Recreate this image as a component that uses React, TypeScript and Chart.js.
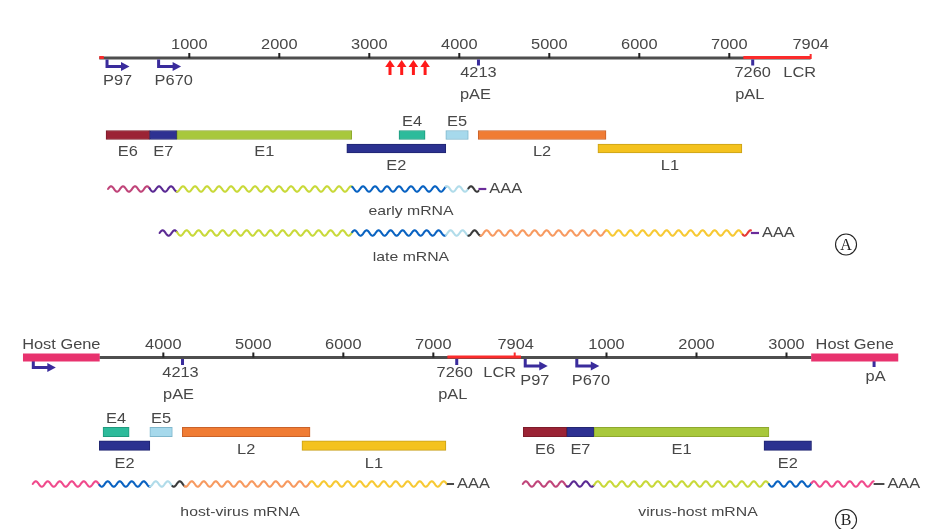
import React, { useEffect, useRef } from "react";
import { Chart, registerables } from "chart.js";
Chart.register(...registerables);

// ================= DATA =================
const GENOME_END = 7904;
const AXIS_TICKS = [1000, 2000, 3000, 4000, 5000, 6000, 7000];
const PROMOTER_NAMES = ["P97", "P670"];
const PROMOTER_POS = [97, 670];
const POLYA_NAMES = ["pAE", "pAL"];
const POLYA_POS = [4213, 7260];
const LCR_RANGE = [7156, 7904];
const LCR_WRAP_END = 50;
const BREAK_SITES = [3230, 3360, 3490, 3620];

const GENE_NAMES = ["E6", "E7", "E1", "E2", "E4", "E5", "L2", "L1"];
const GENE_START = [75, 559, 862, 2750, 3330, 3850, 4210, 5540];
const GENE_END = [559, 862, 2805, 3850, 3620, 4100, 5630, 7140];
const GENE_ROW = [0, 0, 0, 1, 0, 0, 0, 1];

const EARLY_KEYS = ["E6", "E7", "E1", "E2", "E5", "UTR"];
const EARLY_BOUNDS = [97, 559, 862, 2810, 3852, 4101, 4213];
const EARLY_TAIL = [4213, 4300];
const LATE_KEYS = ["E7", "E1", "E2", "E5", "UTR", "L2", "L1", "LCR"];
const LATE_BOUNDS = [670, 862, 2810, 3852, 4101, 4236, 5630, 7150, 7240];
const LATE_TAIL = [7240, 7330];
const MRNA_LABELS_A = ["early mRNA", "late mRNA"];
const MRNA_LABEL_BP_A = 3463;

// Panel B (integrated genome)
const HOST_LEFT_LEN = 845;
const HOST_RIGHT_LEN = 960;
const JUNCTION_LEFT = 3289;
const JUNCTION_RIGHT = 3278;
const WRAP_GAP = 20;
const B_TICKS_V1 = [4000, 5000, 6000, 7000];
const B_TICKS_V2 = [1000, 2000, 3000];
const HOST_PROMOTER = 111;
const HOST_POLYA = 695;
const HOST_LABEL = "Host Gene";
const HOST_POLYA_NAME = "pA";

const HV_HOST_RANGE = [105, 845];
const HV_KEYS = ["E2", "E5", "UTR", "L2", "L1"];
const HV_BOUNDS = [3289, 3852, 4101, 4236, 5630, 7150];
const HV_TAIL = [7150, 7230];
const VH_KEYS = ["E6", "E7", "E1", "E2"];
const VH_BOUNDS = [70, 559, 862, 2805, 3278];
const VH_HOST_RANGE = [0, 690];
const VH_TAIL = [690, 810];
const MRNA_LABELS_B = ["host-virus mRNA", "virus-host mRNA"];
const HV_LABEL_BP = 4852;
const VH_LABEL_BP = 2017;
const POLY_A_TEXT = "AAA";
const PANEL_TAGS = ["A", "B"];

// ================= STYLE / LAYOUT =================
const W = 937;
const H = 529;
const PX_PER_BP = 0.09;
const A_ORIGIN_PX = 99.3;
const B_ORIGIN_PX = 23.3;
const L = {
  aAxis: 58, aRow0: 135, aRow1: 148.5, aEarly: 189, aLate: 233, aEarlyLabel: 211, aLateLabel: 257,
  bAxis: 357.5, bRow0: 432, bRow1: 445.7, bMrna: 484, bMrnaLabel: 512,
  tagX: 8297, tagYA: 244.5, tagYB: 520,
};
const TEXT_COLOR = "#474747";
const TEXT_STRETCH = 1.17;
const FONT = '"Liberation Sans", Arial, Helvetica, sans-serif';
const AXIS_COLOR = "#4e4e4e";
const LCR_COLOR = "#fb2b2b";
const PROMO_COLOR = "#3a2c9c";
const GENE_COLORS: Record<string, string> = {
  E6: "#9b2335", E7: "#2e3192", E1: "#a8c83c", E2: "#2b3190", E4: "#2dbb9b",
  E5: "#a6d9ec", L2: "#f07c34", L1: "#f4c21e", HOST: "#e8326e",
};
const GENE_BORDERS: Record<string, string> = {
  E6: "#7d1b2a", E7: "#23266f", E1: "#8ea82e", E2: "#1f2470", E4: "#1f9a7e",
  E5: "#7fb7cc", L2: "#c9622a", L1: "#c9a018", HOST: "#e8326e",
};
const WAVE_COLORS: Record<string, string> = {
  E6: "#c0457a", E7: "#5b2a94", E1: "#c9d93a", E2: "#0a63c2", E5: "#b1dcea",
  UTR: "#3a3a3a", L2: "#f79a60", L1: "#f7c934", LCR: "#e53935", HOST: "#f04a8c",
};
const TAIL_PURPLE = "#6a2c9a";
const TAIL_GRAY = "#4a4a4a";
const LABEL_ABOVE = ["E4", "E5"];

// ================= HELPERS =================
function toB(seg: string, pos: number): number {
  if (seg === "hostL") return pos;
  if (seg === "v1") return HOST_LEFT_LEN + (pos - JUNCTION_LEFT);
  const v2base = HOST_LEFT_LEN + (GENOME_END - JUNCTION_LEFT) + WRAP_GAP;
  if (seg === "v2") return v2base + pos;
  return v2base + JUNCTION_RIGHT + pos; // hostR
}

type Bar = { name: string; seg: string; s: number; e: number; row: number };
const A_BARS: Bar[] = GENE_NAMES.map((g, i) => ({ name: g, seg: "A", s: GENE_START[i], e: GENE_END[i], row: GENE_ROW[i] }));
const B_BARS: Bar[] = [];
GENE_NAMES.forEach((g, i) => {
  const s1 = Math.max(GENE_START[i], JUNCTION_LEFT), e1 = Math.min(GENE_END[i], GENOME_END);
  if (e1 > s1) B_BARS.push({ name: g, seg: "v1", s: s1, e: e1, row: GENE_ROW[i] });
  const s2 = Math.max(GENE_START[i], 0), e2 = Math.min(GENE_END[i], JUNCTION_RIGHT);
  if (e2 > s2) B_BARS.push({ name: g, seg: "v2", s: s2, e: e2, row: GENE_ROW[i] });
});

function drawText(ctx: CanvasRenderingContext2D, str: string, x: number, y: number, align: CanvasTextAlign = "center", size = 14) {
  ctx.save();
  ctx.font = `${size}px ${FONT}`;
  ctx.fillStyle = TEXT_COLOR;
  ctx.textBaseline = "middle";
  ctx.textAlign = align;
  ctx.translate(x, y);
  ctx.scale(TEXT_STRETCH, 1);
  ctx.fillText(str, 0, 0);
  ctx.restore();
}

function drawWave(ctx: CanvasRenderingContext2D, x1: number, x2: number, yc: number, color: string, origin: number) {
  const amp = 2.7, wl = 12;
  ctx.save();
  ctx.strokeStyle = color;
  ctx.lineWidth = 2.1;
  ctx.lineCap = "round";
  ctx.lineJoin = "round";
  ctx.beginPath();
  const n = Math.max(2, Math.ceil((x2 - x1) / 0.5));
  for (let i = 0; i <= n; i++) {
    const x = x1 + ((x2 - x1) * i) / n;
    const y = yc - amp * Math.sin((2 * Math.PI * (x - origin)) / wl);
    if (i === 0) ctx.moveTo(x, y);
    else ctx.lineTo(x, y);
  }
  ctx.stroke();
  ctx.restore();
}

function drawLine(ctx: CanvasRenderingContext2D, x1: number, y1: number, x2: number, y2: number, color: string, w: number) {
  ctx.save();
  ctx.strokeStyle = color;
  ctx.lineWidth = w;
  ctx.beginPath();
  ctx.moveTo(x1, y1);
  ctx.lineTo(x2, y2);
  ctx.stroke();
  ctx.restore();
}

function drawPromoter(ctx: CanvasRenderingContext2D, x: number, axisY: number) {
  ctx.save();
  ctx.strokeStyle = PROMO_COLOR;
  ctx.fillStyle = PROMO_COLOR;
  ctx.lineWidth = 3;
  ctx.beginPath();
  ctx.moveTo(x, axisY + 1.5);
  ctx.lineTo(x, axisY + 8.5);
  ctx.lineTo(x + 15, axisY + 8.5);
  ctx.stroke();
  ctx.beginPath();
  ctx.moveTo(x + 14, axisY + 4);
  ctx.lineTo(x + 22.5, axisY + 8.5);
  ctx.lineTo(x + 14, axisY + 13);
  ctx.closePath();
  ctx.fill();
  ctx.restore();
}

function drawMarker(ctx: CanvasRenderingContext2D, x: number, axisY: number) {
  ctx.save();
  ctx.fillStyle = PROMO_COLOR;
  ctx.fillRect(x - 1.5, axisY + 1.5, 3, 6);
  ctx.restore();
}

function drawTick(ctx: CanvasRenderingContext2D, x: number, axisY: number, color = "#222") {
  ctx.save();
  ctx.fillStyle = color;
  ctx.fillRect(x - 1, axisY - 5, 2, 5);
  ctx.restore();
}

function drawMRNA(ctx: CanvasRenderingContext2D, segs: [number, number, string][], yc: number) {
  const origin = segs[0][0];
  segs.forEach(([a, b, c]) => drawWave(ctx, a, b, yc, c, origin));
}

// ================= PLUGIN =================
const diagramPlugin = {
  id: "genomeDiagram",
  beforeDatasetsDraw(chart: any) {
    const ctx: CanvasRenderingContext2D = chart.ctx;
    const xA = chart.scales.xA, xB = chart.scales.xB, ys = chart.scales.y;
    const pa = (p: number) => xA.getPixelForValue(p);
    const pb = (seg: string, p: number) => xB.getPixelForValue(toB(seg, p));
    const Y = (v: number) => ys.getPixelForValue(v);
    ctx.save();
    ctx.fillStyle = "#ffffff";
    ctx.fillRect(0, 0, chart.width, chart.height);
    ctx.restore();

    // ---- Panel A axis ----
    const ay = Y(L.aAxis);
    drawLine(ctx, pa(0), ay, pa(GENOME_END), ay, AXIS_COLOR, 3);
    AXIS_TICKS.forEach((t) => drawTick(ctx, pa(t), ay));
    drawLine(ctx, pa(LCR_RANGE[0]), ay - 0.5, pa(LCR_RANGE[1]), ay - 0.5, LCR_COLOR, 3);
    drawLine(ctx, pa(0), ay - 0.5, pa(LCR_WRAP_END), ay - 0.5, LCR_COLOR, 3);
    drawTick(ctx, pa(GENOME_END), ay + 1, LCR_COLOR);
    PROMOTER_POS.forEach((p) => drawPromoter(ctx, pa(p) - 1, ay));
    POLYA_POS.forEach((p) => drawMarker(ctx, pa(p), ay));
    BREAK_SITES.forEach((s) => {
      const x = pa(s);
      ctx.save();
      ctx.fillStyle = "#ff1a1a";
      ctx.fillRect(x - 1.5, ay + 8, 3, 9);
      ctx.beginPath();
      ctx.moveTo(x, ay + 2);
      ctx.lineTo(x - 4.8, ay + 9);
      ctx.lineTo(x + 4.8, ay + 9);
      ctx.closePath();
      ctx.fill();
      ctx.restore();
    });

    // ---- Panel A mRNAs ----
    const early: [number, number, string][] = EARLY_KEYS.map((k, i) => [pa(EARLY_BOUNDS[i]), pa(EARLY_BOUNDS[i + 1]), WAVE_COLORS[k]]);
    drawMRNA(ctx, early, Y(L.aEarly));
    drawLine(ctx, pa(EARLY_TAIL[0]), Y(L.aEarly), pa(EARLY_TAIL[1]), Y(L.aEarly), TAIL_PURPLE, 2.2);
    const late: [number, number, string][] = LATE_KEYS.map((k, i) => [pa(LATE_BOUNDS[i]), pa(LATE_BOUNDS[i + 1]), WAVE_COLORS[k]]);
    drawMRNA(ctx, late, Y(L.aLate));
    drawLine(ctx, pa(LATE_TAIL[0]), Y(L.aLate), pa(LATE_TAIL[1]), Y(L.aLate), TAIL_PURPLE, 2.2);

    // ---- Panel B axis ----
    const by = Y(L.bAxis);
    drawLine(ctx, pb("hostL", HOST_LEFT_LEN), by, pb("hostR", 0), by, AXIS_COLOR, 3);
    B_TICKS_V1.forEach((t) => drawTick(ctx, pb("v1", t), by));
    B_TICKS_V2.forEach((t) => drawTick(ctx, pb("v2", t), by));
    drawLine(ctx, pb("v1", LCR_RANGE[0]), by - 0.5, pb("v2", LCR_WRAP_END), by - 0.5, LCR_COLOR, 3);
    drawTick(ctx, pb("v1", GENOME_END), by, LCR_COLOR);
    PROMOTER_POS.forEach((p) => drawPromoter(ctx, pb("v2", p), by));
    drawPromoter(ctx, pb("hostL", HOST_PROMOTER), by + 1.5);
    POLYA_POS.forEach((p) => drawMarker(ctx, pb("v1", p), by));
    drawMarker(ctx, pb("hostR", HOST_POLYA), by + 2);

    // ---- Panel B mRNAs ----
    const bm = Y(L.bMrna);
    const hv: [number, number, string][] = [[pb("hostL", HV_HOST_RANGE[0]), pb("hostL", HV_HOST_RANGE[1]), WAVE_COLORS.HOST]];
    HV_KEYS.forEach((k, i) => hv.push([pb("v1", HV_BOUNDS[i]), pb("v1", HV_BOUNDS[i + 1]), WAVE_COLORS[k]]));
    drawMRNA(ctx, hv, bm);
    drawLine(ctx, pb("v1", HV_TAIL[0]), bm, pb("v1", HV_TAIL[1]), bm, TAIL_GRAY, 2);
    const vh: [number, number, string][] = VH_KEYS.map((k, i) => [pb("v2", VH_BOUNDS[i]), pb("v2", VH_BOUNDS[i + 1]), WAVE_COLORS[k]]);
    vh.push([pb("hostR", VH_HOST_RANGE[0]), pb("hostR", VH_HOST_RANGE[1]), WAVE_COLORS.HOST]);
    drawMRNA(ctx, vh, bm);
    drawLine(ctx, pb("hostR", VH_TAIL[0]), bm, pb("hostR", VH_TAIL[1]), bm, TAIL_GRAY, 2);
  },
  afterDatasetsDraw(chart: any) {
    const ctx: CanvasRenderingContext2D = chart.ctx;
    const xA = chart.scales.xA, xB = chart.scales.xB, ys = chart.scales.y;
    const pa = (p: number) => xA.getPixelForValue(p);
    const pb = (seg: string, p: number) => xB.getPixelForValue(toB(seg, p));
    const Y = (v: number) => ys.getPixelForValue(v);

    // ---- Panel A text ----
    const ay = Y(L.aAxis);
    AXIS_TICKS.forEach((t) => drawText(ctx, String(t), pa(t), ay - 13));
    drawText(ctx, String(GENOME_END), pa(GENOME_END), ay - 13);
    PROMOTER_NAMES.forEach((n, i) => drawText(ctx, n, pa(PROMOTER_POS[i]) - 5, ay + 23, "left"));
    POLYA_NAMES.forEach((n, i) => {
      drawText(ctx, String(POLYA_POS[i]), pa(POLYA_POS[i]), ay + 15.5);
      drawText(ctx, n, pa(POLYA_POS[i]) - 3, ay + 37.5);
    });
    drawText(ctx, "LCR", pa(POLYA_POS[1]) + 47, ay + 15.5);
    const rowA = [L.aRow0, L.aRow1];
    A_BARS.forEach((b) => {
      const x = (pa(b.s) + pa(b.e)) / 2;
      const y = Y(rowA[b.row]) + (LABEL_ABOVE.includes(b.name) ? -13 : 17.3);
      drawText(ctx, b.name, x, y);
    });
    drawText(ctx, POLY_A_TEXT, pa(EARLY_TAIL[1]) + 3, Y(L.aEarly), "left");
    drawText(ctx, POLY_A_TEXT, pa(LATE_TAIL[1]) + 3, Y(L.aLate), "left");
    drawText(ctx, MRNA_LABELS_A[0], pa(MRNA_LABEL_BP_A), Y(L.aEarlyLabel), "center", 13.5);
    drawText(ctx, MRNA_LABELS_A[1], pa(MRNA_LABEL_BP_A), Y(L.aLateLabel), "center", 13.5);

    // ---- Panel B text ----
    const by = Y(L.bAxis);
    drawText(ctx, HOST_LABEL, (pb("hostL", 0) + pb("hostL", HOST_LEFT_LEN)) / 2, by - 12.5);
    drawText(ctx, HOST_LABEL, (pb("hostR", 0) + pb("hostR", HOST_RIGHT_LEN)) / 2, by - 12.5);
    B_TICKS_V1.forEach((t) => drawText(ctx, String(t), pb("v1", t), by - 12.5));
    drawText(ctx, String(GENOME_END), pb("v1", GENOME_END) + 1, by - 12.5);
    B_TICKS_V2.forEach((t) => drawText(ctx, String(t), pb("v2", t), by - 12.5));
    PROMOTER_NAMES.forEach((n, i) => drawText(ctx, n, pb("v2", PROMOTER_POS[i]) - 5, by + 23.5, "left"));
    POLYA_NAMES.forEach((n, i) => {
      drawText(ctx, String(POLYA_POS[i]), pb("v1", POLYA_POS[i]) - 2, by + 15.5);
      drawText(ctx, n, pb("v1", POLYA_POS[i]) - 4, by + 37.5);
    });
    drawText(ctx, "LCR", pb("v1", POLYA_POS[1]) + 43, by + 15.5);
    drawText(ctx, HOST_POLYA_NAME, pb("hostR", HOST_POLYA) + 1.5, by + 19.5);
    const rowB = [L.bRow0, L.bRow1];
    B_BARS.forEach((b) => {
      const x = (pb(b.seg, b.s) + pb(b.seg, b.e)) / 2;
      const y = Y(rowB[b.row]) + (LABEL_ABOVE.includes(b.name) ? -12.5 : 18);
      drawText(ctx, b.name, x, y);
    });
    drawText(ctx, POLY_A_TEXT, pb("v1", HV_TAIL[1]) + 3, Y(L.bMrna), "left");
    drawText(ctx, POLY_A_TEXT, pb("hostR", VH_TAIL[1]) + 3, Y(L.bMrna), "left");
    drawText(ctx, MRNA_LABELS_B[0], pb("v1", HV_LABEL_BP), Y(L.bMrnaLabel), "center", 13.5);
    drawText(ctx, MRNA_LABELS_B[1], pb("v2", VH_LABEL_BP), Y(L.bMrnaLabel), "center", 13.5);

    // ---- Panel tags ----
    [L.tagYA, L.tagYB].forEach((ty, i) => {
      const cx = pa(L.tagX), cy = Y(ty);
      ctx.save();
      ctx.strokeStyle = "#222";
      ctx.lineWidth = 1.1;
      ctx.beginPath();
      ctx.arc(cx, cy, 10.5, 0, Math.PI * 2);
      ctx.stroke();
      ctx.fillStyle = "#222";
      ctx.font = '16px "Liberation Serif", "DejaVu Serif", serif';
      ctx.textAlign = "center";
      ctx.textBaseline = "middle";
      ctx.fillText(PANEL_TAGS[i], cx, cy + 1);
      ctx.restore();
    });
  },
};

// ================= CHART =================
function buildConfig(): any {
  const rowA = [L.aRow0, L.aRow1];
  const rowB = [L.bRow0, L.bRow1];
  const datasets = [
    {
      label: "Panel A genes",
      xAxisID: "xA",
      yAxisID: "y",
      data: A_BARS.map((b) => ({ x: [b.s, b.e], y: rowA[b.row] })),
      backgroundColor: A_BARS.map((b) => GENE_COLORS[b.name]),
      borderColor: A_BARS.map((b) => GENE_BORDERS[b.name]),
      borderWidth: 1,
      borderSkipped: false,
      barThickness: 9,
      grouped: false,
    },
    {
      label: "Panel B genes",
      xAxisID: "xB",
      yAxisID: "y",
      data: B_BARS.map((b) => ({ x: [toB(b.seg, b.s), toB(b.seg, b.e)], y: rowB[b.row] })),
      backgroundColor: B_BARS.map((b) => GENE_COLORS[b.name]),
      borderColor: B_BARS.map((b) => GENE_BORDERS[b.name]),
      borderWidth: 1,
      borderSkipped: false,
      barThickness: 9.5,
      grouped: false,
    },
    {
      label: "Host genes",
      xAxisID: "xB",
      yAxisID: "y",
      data: [
        { x: [toB("hostL", 0), toB("hostL", HOST_LEFT_LEN)], y: L.bAxis },
        { x: [toB("hostR", 0), toB("hostR", HOST_RIGHT_LEN)], y: L.bAxis },
      ],
      backgroundColor: GENE_COLORS.HOST,
      borderWidth: 0,
      barThickness: 7.5,
      grouped: false,
    },
  ];
  const xaMin = -A_ORIGIN_PX / PX_PER_BP;
  const xbMin = -B_ORIGIN_PX / PX_PER_BP;
  const span = W / PX_PER_BP;
  return {
    type: "bar",
    data: { datasets },
    options: {
      responsive: false,
      animation: false,
      indexAxis: "y",
      events: [],
      layout: { padding: 0 },
      plugins: { legend: { display: false }, tooltip: { enabled: false } },
      scales: {
        xA: { type: "linear", axis: "x", display: false, min: xaMin, max: xaMin + span, offset: false, bounds: "data" },
        xB: { type: "linear", axis: "x", display: false, min: xbMin, max: xbMin + span, offset: false, bounds: "data" },
        y: { type: "linear", axis: "y", display: false, min: 0, max: H, reverse: true, offset: false, bounds: "data" },
      },
    },
    plugins: [diagramPlugin],
  };
}

export default function App() {
  const ref = useRef<HTMLCanvasElement>(null);
  useEffect(() => {
    const chart = new Chart(ref.current as HTMLCanvasElement, buildConfig());
    return () => chart.destroy();
  }, []);
  return (
    <div style={{ position: "fixed", left: 0, top: 0, width: W, height: H, background: "#fff" }}>
      <canvas ref={ref} width={W} height={H} style={{ display: "block", width: W, height: H }} />
    </div>
  );
}
